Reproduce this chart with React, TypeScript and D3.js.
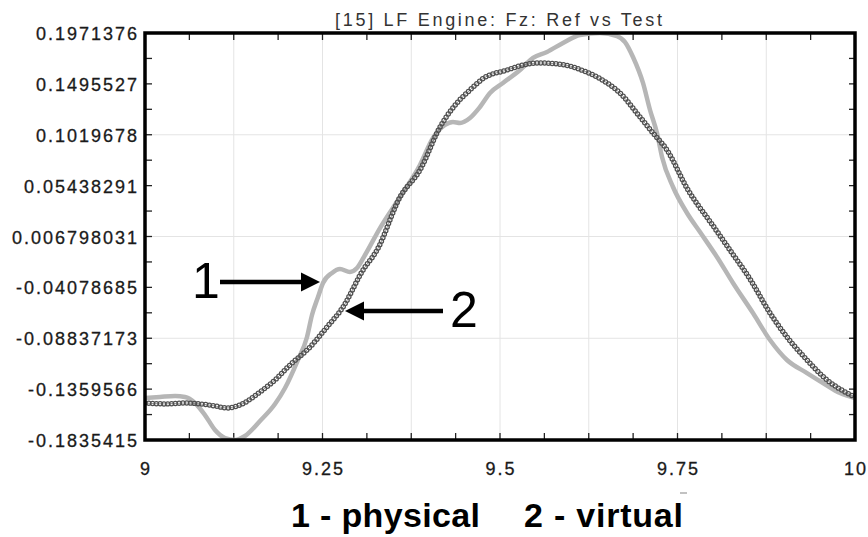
import React, { useEffect, useRef } from "react";
import * as d3 from "d3";

const title = "[15] LF Engine: Fz: Ref vs Test";
const yTickLabels = [
  "0.1971376", "0.1495527", "0.1019678", "0.05438291", "0.006798031",
  "-0.04078685", "-0.08837173", "-0.1359566", "-0.1835415",
];
const xTickValues = [9, 9.25, 9.5, 9.75, 10];
const xTickLabels = ["9", "9.25", "9.5", "9.75", "10"];
const captionPhysical = "1 - physical";
const captionVirtual = "2 - virtual";

const physicalX = [
  9.0, 9.0211, 9.0423, 9.0563, 9.0704, 9.0845, 9.0986, 9.1127, 9.1268, 9.1408,
  9.162, 9.1831, 9.1972, 9.2141, 9.2282, 9.2352, 9.2437, 9.2507, 9.2634, 9.2746,
  9.2887, 9.2986, 9.3099, 9.331, 9.3592, 9.3873, 9.4056, 9.4225, 9.4338, 9.4437,
  9.4577, 9.4718, 9.4859, 9.5042, 9.5282, 9.5465, 9.5662, 9.5887, 9.6127, 9.6408,
  9.6648, 9.6761, 9.6873, 9.7014, 9.7113, 9.7211, 9.7282, 9.7437, 9.7634, 9.7817,
  9.8056, 9.8282, 9.8563, 9.8803, 9.9042, 9.9324, 9.9549, 9.9789, 10.0,
];
const physicalY = [
  -0.1443, -0.1433, -0.1424, -0.1433, -0.1489, -0.1602, -0.1742, -0.1817, -0.1835, -0.1798,
  -0.1658, -0.1499, -0.1349, -0.1106, -0.0872, -0.0666, -0.0498, -0.0367, -0.0273, -0.0236,
  -0.0264, -0.0227, -0.0105, 0.0147, 0.0437, 0.0737, 0.0989, 0.1111, 0.1139, 0.113,
  0.1176, 0.1279, 0.141, 0.1504, 0.1625, 0.1738, 0.1794, 0.1878, 0.1953, 0.1971,
  0.1943, 0.1887, 0.1747, 0.1504, 0.1251, 0.1036, 0.0812, 0.0531, 0.0288, 0.011,
  -0.0124, -0.0367, -0.0648, -0.09, -0.1087, -0.1209, -0.1302, -0.1396, -0.1443,
];

const virtualX = [
  9.0, 9.0282, 9.0563, 9.0775, 9.0986, 9.1155, 9.1338, 9.162, 9.1831, 9.2042,
  9.2324, 9.2563, 9.2789, 9.307, 9.3268, 9.3592, 9.3873, 9.4155, 9.4394, 9.4577,
  9.4761, 9.5099, 9.5324, 9.5563, 9.5944, 9.6127, 9.6408, 9.669, 9.6972, 9.7155,
  9.7352, 9.7634, 9.8014, 9.8239, 9.8521, 9.8803, 9.9042, 9.9324, 9.9606,
  9.9887, 10.0,
];
const virtualY = [
  -0.1489, -0.1498, -0.1489, -0.1498, -0.1517, -0.1536, -0.1508, -0.1386, -0.1274, -0.1134,
  -0.0966, -0.0779, -0.0592, -0.0246, -0.0059, 0.0437, 0.069, 0.1092, 0.1317, 0.1438,
  0.1545, 0.1625, 0.1672, 0.1691, 0.1668, 0.163, 0.1545, 0.141, 0.1186, 0.1036,
  0.0877, 0.052, 0.0156, -0.0059, -0.033, -0.0648, -0.0872, -0.1087, -0.1274,
  -0.1396, -0.1433,
];

const W = 868;
const H = 537;
const L = 145, R = 855, T = 33, B = 440;

export default function App() {
  const vRef = useRef<SVGPathElement>(null);
  const mRef = useRef<SVGGElement>(null);

  const yVals = yTickLabels.map(Number);
  const yMin = yVals[yVals.length - 1];
  const yMax = yVals[0];
  const x = d3.scaleLinear().domain([9, 10]).range([L, R]);
  const y = d3.scaleLinear().domain([yMin, yMax]).range([B, T]);
  const line = d3
    .line<[number, number]>()
    .x((d) => x(d[0]))
    .y((d) => y(d[1]))
    .curve(d3.curveMonotoneX);

  const phys = physicalX.map((v, i) => [v, physicalY[i]] as [number, number]);
  const virt = virtualX.map((v, i) => [v, virtualY[i]] as [number, number]);

  const yStep = (yMax - yMin) / 8;
  const yMinor = d3.range(0, 17).map((i) => yMin + (i * yStep) / 2);
  const xMinor = d3.range(0, 17).map((i) => 9 + i * 0.0625);
  const xGrid = d3.range(1, 8).map((i) => 9 + i * 0.125);
  const yGrid = [yVals[2], yVals[4], yVals[6]];

  useEffect(() => {
    const p = vRef.current;
    const g = mRef.current;
    if (!p || !g) return;
    const len = p.getTotalLength();
    const pts: { x: number; y: number }[] = [];
    for (let l = 0; l <= len; l += 3.8) {
      const pt = p.getPointAtLength(l);
      pts.push({ x: pt.x, y: pt.y });
    }
    d3.select(g).selectAll("circle").remove();
    d3.select(g)
      .selectAll("circle")
      .data(pts)
      .enter()
      .append("circle")
      .attr("cx", (d) => d.x)
      .attr("cy", (d) => d.y)
      .attr("r", 2.1)
      .attr("fill", "none")
      .attr("stroke", "#505050")
      .attr("stroke-width", 1.25);
  }, []);

  const font = "'Liberation Sans', Arial, sans-serif";

  return (
    <svg
      width={W}
      height={H}
      viewBox={`0 0 ${W} ${H}`}
      style={{ position: "absolute", left: 0, top: 0, background: "#fff" }}
    >
      <defs>
        <clipPath id="plotClip">
          <rect x={L} y={T} width={R - L} height={B - T} />
        </clipPath>
      </defs>
      <rect x={0} y={0} width={W} height={H} fill="#fff" />
      {xGrid.map((v, i) => (
        <line key={"xg" + i} x1={x(v)} x2={x(v)} y1={T} y2={B} stroke="#e4e4e4" strokeWidth={1} />
      ))}
      {yGrid.map((v, i) => (
        <line key={"yg" + i} x1={L} x2={R} y1={y(v)} y2={y(v)} stroke="#e4e4e4" strokeWidth={1} />
      ))}
      {xMinor.map((v, i) => (
        <g key={"xt" + i}>
          <line x1={x(v)} x2={x(v)} y1={T} y2={T + 7} stroke="#222" strokeWidth={1.3} />
          <line x1={x(v)} x2={x(v)} y1={B} y2={B - 7} stroke="#222" strokeWidth={1.3} />
        </g>
      ))}
      {yMinor.map((v, i) => (
        <g key={"yt" + i}>
          <line x1={L} x2={L + 7} y1={y(v)} y2={y(v)} stroke="#222" strokeWidth={1.3} />
          <line x1={R} x2={R - 6} y1={y(v)} y2={y(v)} stroke="#222" strokeWidth={1.3} />
        </g>
      ))}
      <g clipPath="url(#plotClip)">
        <path d={line(phys) || ""} fill="none" stroke="#b6b6b6" strokeWidth={4.5} strokeLinejoin="round" />
        <path ref={vRef} d={line(virt) || ""} fill="none" stroke="#777" strokeWidth={0.8} />
        <g ref={mRef} />
      </g>
      <rect x={L} y={T} width={R - L} height={B - T} fill="none" stroke="#000" strokeWidth={3.5} />
      {yTickLabels.map((s, i) => (
        <text
          key={"yl" + i}
          x={139}
          y={y(yVals[i]) + 7}
          textAnchor="end"
          fontFamily={font}
          fontSize={18}
          letterSpacing={2}
          fill="#1a1a1a"
          stroke="#1a1a1a"
          strokeWidth={0.3}
        >
          {s}
        </text>
      ))}
      {xTickValues.map((v, i) => (
        <text
          key={"xl" + i}
          x={x(v) + 1}
          y={475}
          textAnchor="middle"
          fontFamily={font}
          fontSize={18}
          letterSpacing={2}
          fill="#1a1a1a"
          stroke="#1a1a1a"
          strokeWidth={0.3}
        >
          {xTickLabels[i]}
        </text>
      ))}
      <text
        x={335}
        y={26}
        fontFamily={font}
        fontSize={18}
        textLength={327}
        lengthAdjust="spacing"
        fill="#333"
      >
        {title}
      </text>
      <text x={192} y={298} fontFamily={font} fontSize={50} fill="#000">1</text>
      <line x1={220} x2={305} y1={282} y2={282} stroke="#000" strokeWidth={4.5} />
      <path d="M320,282 L301,272.5 L301,291.5 Z" fill="#000" />
      <text x={450} y={327} fontFamily={font} fontSize={50} fill="#000">2</text>
      <line x1={443} x2={360} y1={311} y2={311} stroke="#000" strokeWidth={4.5} />
      <path d="M345,311 L364,301.5 L364,320.5 Z" fill="#000" />
      <text x={291} y={527} fontFamily={font} fontSize={34} fontWeight="bold" fill="#000"
        textLength={189} lengthAdjust="spacing">{captionPhysical}</text>
      <text x={524} y={527} fontFamily={font} fontSize={34} fontWeight="bold" fill="#000"
        textLength={159} lengthAdjust="spacing">{captionVirtual}</text>
      <line x1={680} x2={687} y1={493} y2={493} stroke="#999" strokeWidth={1.2} />
    </svg>
  );
}
